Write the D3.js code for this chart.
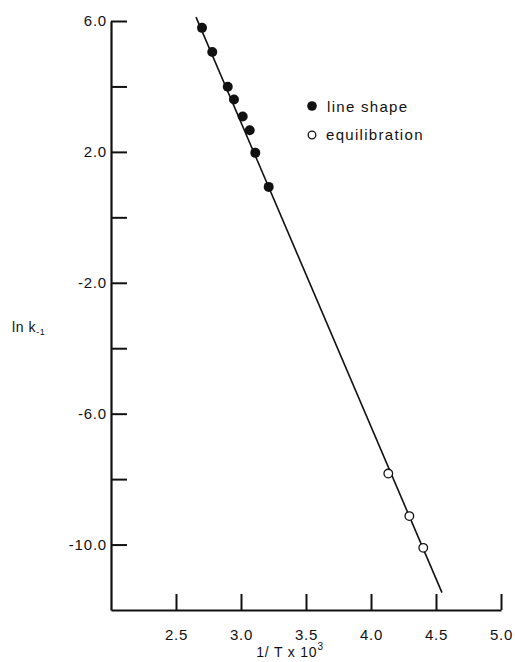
<!DOCTYPE html>
<html>
<head>
<meta charset="utf-8">
<script src="https://cdn.jsdelivr.net/npm/d3@7"></script>
<style>
  body { margin: 0; background: #fff; }
  svg text { font-family: "Liberation Sans", Arial, sans-serif; fill: #111; }
</style>
</head>
<body>
<div id="chart"></div>
<script>
var svgWidth = 515;
var svgHeight = 662;

// filled points (line shape)
var lineShapeX = [2.700, 2.779, 2.898, 2.946, 3.013, 3.067, 3.110, 3.213];
var lineShapeY = [5.79, 5.05, 3.99, 3.60, 3.08, 2.66, 1.97, 0.93];

// open points (equilibration)
var equilX = [4.133, 4.295, 4.402];
var equilY = [-7.83, -9.13, -10.10];

// fitted line ends
var fitX = [2.654, 4.546];
var fitY = [6.12, -11.47];

var xTicks = [2.5, 3.0, 3.5, 4.0, 4.5, 5.0];
var yTicks = [6, 4, 2, 0, -2, -4, -6, -8, -10];
var yTickLabels = ["6.0", "", "2.0", "", "-2.0", "", "-6.0", "", "-10.0"];

var margin = { top: 21, right: 14, bottom: 52, left: 111 };
var width = svgWidth - margin.left - margin.right;
var height = svgHeight - margin.top - margin.bottom;

var svg = d3.select("#chart")
  .append("svg")
  .attr("width", svgWidth)
  .attr("height", svgHeight);

var g = svg.append("g")
  .attr("transform", `translate(${margin.left}, ${margin.top})`);

var xScale = d3.scaleLinear().domain([2.0, 5.0]).range([0, width]);
var yScale = d3.scaleLinear().domain([-12, 6]).range([height, 0]);

var bottomAxis = d3.axisBottom(xScale)
  .tickValues(xTicks)
  .tickFormat(d3.format(".1f"))
  .tickSizeInner(-16)
  .tickSizeOuter(0)
  .tickPadding(19);

var leftAxis = d3.axisLeft(yScale)
  .tickValues(yTicks)
  .tickFormat((d, i) => yTickLabels[i])
  .tickSizeInner(-16)
  .tickSizeOuter(0)
  .tickPadding(4);

var xg = g.append("g")
  .attr("transform", `translate(0, ${height})`)
  .call(bottomAxis);

var yg = g.append("g")
  .call(leftAxis);

[xg, yg].forEach(function (a) {
  a.select(".domain").attr("stroke", "#111").attr("stroke-width", 2.2);
  a.selectAll(".tick line").attr("stroke", "#111").attr("stroke-width", 2);
  a.selectAll(".tick text")
    .style("font-size", "15px")
    .style("letter-spacing", "0.8px")
    .attr("fill", "#111");
});

// fitted line
var fitData = fitX.map((x, i) => ({ x: x, y: fitY[i] }));
g.append("path")
  .datum(fitData)
  .attr("fill", "none")
  .attr("stroke", "#111")
  .attr("stroke-width", 1.6)
  .attr("d", d3.line().x(d => xScale(d.x)).y(d => yScale(d.y)));

g.selectAll(".filled")
  .data(lineShapeX.map((x, i) => ({ x: x, y: lineShapeY[i] })))
  .enter()
  .append("circle")
  .attr("class", "filled")
  .attr("cx", d => xScale(d.x))
  .attr("cy", d => yScale(d.y))
  .attr("r", 5)
  .attr("fill", "#111");

g.selectAll(".open")
  .data(equilX.map((x, i) => ({ x: x, y: equilY[i] })))
  .enter()
  .append("circle")
  .attr("class", "open")
  .attr("cx", d => xScale(d.x))
  .attr("cy", d => yScale(d.y))
  .attr("r", 4.3)
  .attr("fill", "#fff")
  .attr("stroke", "#111")
  .attr("stroke-width", 1.3);

// legend
var legend = svg.append("g");
legend.append("circle").attr("cx", 312).attr("cy", 106).attr("r", 4.8).attr("fill", "#111");
legend.append("text").attr("x", 327).attr("y", 112)
  .style("font-size", "15px").style("letter-spacing", "1.3px").text("line shape");
legend.append("circle").attr("cx", 312).attr("cy", 135).attr("r", 3.8)
  .attr("fill", "#fff").attr("stroke", "#111").attr("stroke-width", 1.3);
legend.append("text").attr("x", 326).attr("y", 140)
  .style("font-size", "15px").style("letter-spacing", "1.3px").text("equilibration");

// axis titles
var yTitle = svg.append("text").attr("x", 12).attr("y", 332).style("font-size", "14px")
  .style("letter-spacing", "0.6px");
yTitle.append("tspan").text("ln k");
yTitle.append("tspan").attr("dy", 3).style("font-size", "9px").text("-1");

var xTitle = svg.append("text").attr("x", 290).attr("y", 657)
  .attr("text-anchor", "middle").style("font-size", "14px").style("letter-spacing", "0.8px");
xTitle.append("tspan").text("1/ T x 10");
xTitle.append("tspan").attr("dy", -7).style("font-size", "10px").text("3");
</script>
</body>
</html>
